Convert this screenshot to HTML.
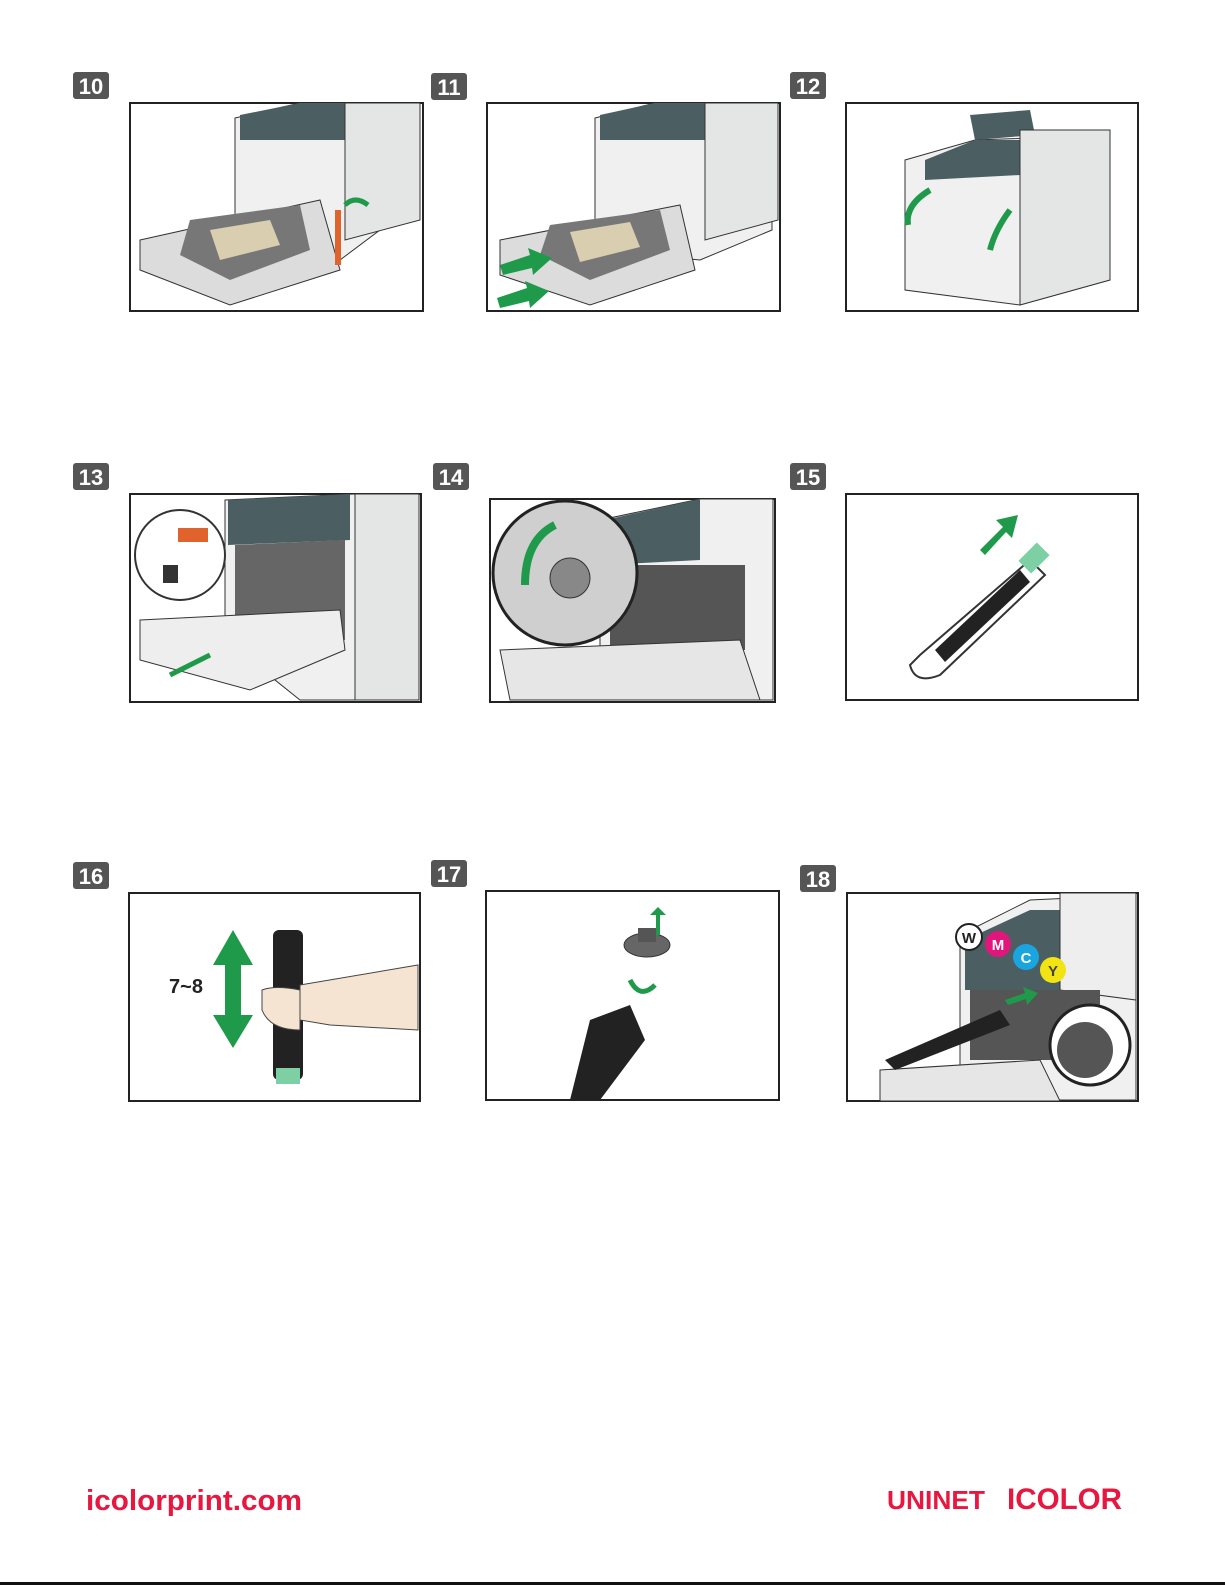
<!DOCTYPE html>
<html><head><meta charset="utf-8"><style>
html,body{margin:0;padding:0;background:#fff}
body{width:1225px;height:1585px;position:relative;overflow:hidden;font-family:"Liberation Sans",sans-serif}
svg{position:absolute;left:0;top:0}
</style></head><body>
<svg width="1225" height="1585" viewBox="0 0 1225 1585" xmlns="http://www.w3.org/2000/svg">
<g font-family="Liberation Sans, sans-serif" font-weight="bold" font-size="22" fill="#fff" text-anchor="middle">
<rect x="73" y="72" width="36" height="27" rx="3" fill="#555"/><text x="91" y="94">10</text>
<rect x="431" y="73" width="36" height="27" rx="3" fill="#555"/><text x="449" y="95">11</text>
<rect x="790" y="72" width="36" height="27" rx="3" fill="#555"/><text x="808" y="94">12</text>
<rect x="73" y="463" width="36" height="27" rx="3" fill="#555"/><text x="91" y="485">13</text>
<rect x="433" y="463" width="36" height="27" rx="3" fill="#555"/><text x="451" y="485">14</text>
<rect x="790" y="463" width="36" height="27" rx="3" fill="#555"/><text x="808" y="485">15</text>
<rect x="73" y="862" width="36" height="27" rx="3" fill="#555"/><text x="91" y="884">16</text>
<rect x="431" y="860" width="36" height="27" rx="3" fill="#555"/><text x="449" y="882">17</text>
<rect x="800" y="865" width="36" height="27" rx="3" fill="#555"/><text x="818" y="887">18</text>
</g>

<g>
<rect x="130" y="103" width="293" height="208" fill="#fff" stroke="#222" stroke-width="2"/>
<path d="M235 118 L300 103 L415 103 L415 210 L400 215 L340 260 L235 250 Z" fill="#f0f0f0" stroke="#333"/>
<path d="M240 115 L300 103 L350 103 L350 140 L240 140 Z" fill="#4b5f63"/>
<path d="M345 103 L420 103 L420 220 L345 240 Z" fill="#e4e6e6" stroke="#333"/>
<path d="M140 240 L320 200 L340 270 L230 305 L140 270 Z" fill="#dcdcdc" stroke="#333"/>
<path d="M190 220 L300 205 L310 250 L230 280 L180 255 Z" fill="#777"/>
<path d="M210 230 L270 220 L280 245 L220 260 Z" fill="#d9cfb0"/>
<rect x="335" y="210" width="6" height="55" fill="#e0632e"/>
<path d="M345 205 Q355 195 368 205" stroke="#1e9a4a" stroke-width="5" fill="none"/>
</g>

<g>
<rect x="487" y="103" width="293" height="208" fill="#fff" stroke="#222" stroke-width="2"/>
<path d="M595 118 L655 103 L772 103 L772 230 L700 260 L595 250 Z" fill="#f0f0f0" stroke="#333"/>
<path d="M600 115 L655 103 L705 103 L705 140 L600 140 Z" fill="#4b5f63"/>
<path d="M705 103 L778 103 L778 220 L705 240 Z" fill="#e4e6e6" stroke="#333"/>
<path d="M500 240 L680 205 L695 270 L590 305 L500 275 Z" fill="#dcdcdc" stroke="#333"/>
<path d="M550 225 L660 210 L670 250 L590 280 L540 255 Z" fill="#777"/>
<path d="M570 232 L630 222 L640 247 L580 262 Z" fill="#d9cfb0"/>
<path d="M500 265 L530 255 L528 248 L552 258 L533 275 L532 268 L503 275 Z" fill="#1e9a4a"/>
<path d="M497 298 L527 288 L525 281 L549 291 L530 308 L529 301 L500 308 Z" fill="#1e9a4a"/>
</g>

<g>
<rect x="846" y="103" width="292" height="208" fill="#fff" stroke="#222" stroke-width="2"/>
<path d="M905 160 L975 140 L1110 135 L1110 280 L1020 305 L905 290 Z" fill="#f0f0f0" stroke="#333"/>
<path d="M925 160 L975 140 L1020 140 L1020 175 L925 180 Z" fill="#4b5f63"/>
<path d="M970 115 L1030 110 L1035 135 L975 140 Z" fill="#4b5f63"/>
<path d="M1020 130 L1110 130 L1110 280 L1020 305 Z" fill="#e4e6e6" stroke="#333"/>
<path d="M930 190 Q905 205 908 225" stroke="#1e9a4a" stroke-width="6" fill="none"/>
<path d="M1010 210 Q995 230 990 250" stroke="#1e9a4a" stroke-width="6" fill="none"/>
</g>

<g>
<rect x="130" y="494" width="291" height="208" fill="#fff" stroke="#222" stroke-width="2"/>
<path d="M225 500 L355 494 L419 494 L419 700 L300 700 L225 640 Z" fill="#f0f0f0" stroke="#333"/>
<path d="M228 500 L350 494 L350 540 L228 545 Z" fill="#4b5f63"/>
<path d="M355 494 L419 494 L419 700 L355 700 Z" fill="#e4e6e6" stroke="#333"/>
<path d="M235 545 L345 540 L345 640 L235 640 Z" fill="#666"/>
<path d="M140 620 L340 610 L345 650 L250 690 L140 660 Z" fill="#eee" stroke="#333"/>
<circle cx="180" cy="555" r="45" fill="#fff" stroke="#333" stroke-width="2"/>
<rect x="178" y="528" width="30" height="14" fill="#e0632e"/>
<rect x="163" y="565" width="15" height="18" fill="#333"/>
<path d="M170 675 L210 655" stroke="#1e9a4a" stroke-width="5"/>
</g>

<g>
<rect x="490" y="499" width="285" height="203" fill="#fff" stroke="#222" stroke-width="2"/>
<path d="M600 520 L700 499 L773 499 L773 700 L600 700 Z" fill="#f0f0f0" stroke="#333"/>
<path d="M605 520 L700 499 L700 560 L605 565 Z" fill="#4b5f63"/>
<path d="M610 565 L745 565 L745 650 L610 650 Z" fill="#555"/>
<path d="M500 650 L740 640 L760 700 L510 700 Z" fill="#e6e6e6" stroke="#333"/>
<circle cx="565" cy="573" r="72" fill="#cfcfcf" stroke="#222" stroke-width="3"/>
<circle cx="570" cy="578" r="20" fill="#888" stroke="#333"/>
<path d="M525 585 Q525 540 555 525" stroke="#1e9a4a" stroke-width="8" fill="none"/>
</g>

<g>
<rect x="846" y="494" width="292" height="206" fill="#fff" stroke="#222" stroke-width="2"/>
<path d="M920 655 L1030 560 L1045 575 L940 675 Q915 685 910 665 Z" fill="#fff" stroke="#333" stroke-width="2"/>
<path d="M935 650 L1020 570 L1030 582 L945 662 Z" fill="#222"/>
<rect x="1025" y="545" width="18" height="26" fill="#7dcfa4" transform="rotate(45 1034 558)"/>
<path d="M980 550 L1003 527 L996 520 L1018 515 L1012 538 L1006 532 L985 555 Z" fill="#1e9a4a"/>
</g>

<g>
<rect x="129" y="893" width="291" height="208" fill="#fff" stroke="#222" stroke-width="2"/>
<path d="M233 930 L213 965 L225 965 L225 1015 L213 1015 L233 1048 L253 1015 L241 1015 L241 965 L253 965 Z" fill="#1e9a4a"/>
<text x="186" y="993" font-family="Liberation Sans, sans-serif" font-weight="bold" font-size="20" fill="#222" text-anchor="middle">7~8</text>
<rect x="273" y="930" width="30" height="150" rx="6" fill="#222"/>
<rect x="276" y="1068" width="24" height="16" fill="#7dcfa4"/>
<path d="M300 985 L418 965 L418 1030 L330 1025 L300 1020 Z" fill="#f6e4d2" stroke="#444"/>
<path d="M262 990 Q275 985 300 990 L300 1030 Q270 1030 262 1010 Z" fill="#f6e4d2" stroke="#444"/>
</g>

<g>
<rect x="486" y="891" width="293" height="209" fill="#fff" stroke="#222" stroke-width="2"/>
<ellipse cx="647" cy="945" rx="23" ry="12" fill="#666" stroke="#333"/>
<rect x="638" y="928" width="18" height="14" fill="#555"/>
<path d="M656 935 L656 915 L650 915 L658 907 L666 915 L660 915 L660 935 Z" fill="#1e9a4a"/>
<path d="M630 980 Q640 1000 655 985" stroke="#1e9a4a" stroke-width="5" fill="none"/>
<path d="M590 1020 L630 1005 L645 1040 L600 1100 L570 1100 Z" fill="#222"/>
</g>

<g>
<rect x="847" y="893" width="291" height="208" fill="#fff" stroke="#222" stroke-width="2"/>
<path d="M960 935 L1030 900 L1136 895 L1136 1100 L960 1100 Z" fill="#f0f0f0" stroke="#333"/>
<path d="M965 940 L1030 910 L1095 910 L1100 990 L965 990 Z" fill="#4b5f63"/>
<path d="M1060 893 L1136 893 L1136 1000 L1060 990 Z" fill="#eee" stroke="#333"/>
<path d="M970 990 L1100 990 L1100 1060 L970 1060 Z" fill="#555"/>
<path d="M880 1070 L1040 1060 L1060 1101 L880 1101 Z" fill="#e6e6e6" stroke="#333"/>
<path d="M885 1060 L1000 1010 L1010 1025 L895 1070 Z" fill="#222"/>
<circle cx="969" cy="937" r="13" fill="#fff" stroke="#222" stroke-width="2"/>
<circle cx="998" cy="944" r="13" fill="#e2157d"/>
<circle cx="1026" cy="957" r="13" fill="#1aa5e0"/>
<circle cx="1053" cy="970" r="13" fill="#f2e313"/>
<g font-family="Liberation Sans, sans-serif" font-weight="bold" font-size="15" text-anchor="middle">
<text x="969" y="943" fill="#222">W</text><text x="998" y="950" fill="#fff">M</text><text x="1026" y="963" fill="#fff">C</text><text x="1053" y="976" fill="#444">Y</text></g>
<circle cx="1090" cy="1045" r="40" fill="#fff" stroke="#222" stroke-width="3"/>
<circle cx="1085" cy="1050" r="28" fill="#555"/>
<path d="M1005 1000 L1025 993 L1023 987 L1038 993 L1027 1005 L1026 999 L1008 1005 Z" fill="#1e9a4a"/>
</g>

<text x="86" y="1510" font-family="Liberation Sans, sans-serif" font-weight="bold" font-size="29" fill="#e8173f" textLength="216" lengthAdjust="spacingAndGlyphs">icolorprint.com</text>
<text x="887" y="1509" font-family="Liberation Sans, sans-serif" font-weight="bold" font-size="26" fill="#e8173f" textLength="98" lengthAdjust="spacingAndGlyphs">UNINET</text>
<text x="1007" y="1509" font-family="Liberation Sans, sans-serif" font-weight="bold" font-size="30" fill="#e8173f" textLength="115" lengthAdjust="spacingAndGlyphs">ICOLOR</text>
<rect x="0" y="1582" width="1225" height="3" fill="#111"/>
</svg>
</body></html>
